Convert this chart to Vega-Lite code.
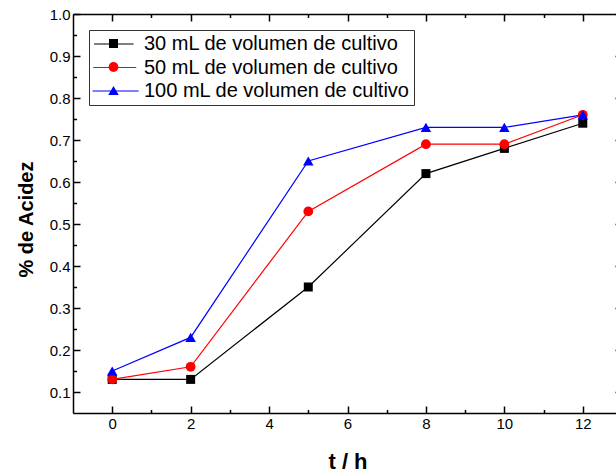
{
  "$schema": "https://vega.github.io/schema/vega-lite/v6.json",
  "width": 549,
  "height": 399,
  "autosize": "none",
  "padding": {"left": 73, "top": 14, "right": 0, "bottom": 62},
  "background": "white",
  "config": {
    "view": {"stroke": null},
    "font": "Liberation Sans",
    "axis": {
      "domainColor": "black",
      "domainWidth": 1.5,
      "tickColor": "black",
      "tickWidth": 1.5,
      "grid": false,
      "labelFont": "Liberation Sans",
      "labelFontSize": 15,
      "labelColor": "black",
      "titleFont": "Liberation Sans",
      "titleFontWeight": "bold",
      "titleColor": "black"
    }
  },
  "data": {
    "values": [
      {"t": 0, "serie": "30 mL de volumen de cultivo", "acidez": 0.13},
      {"t": 2, "serie": "30 mL de volumen de cultivo", "acidez": 0.13},
      {"t": 5, "serie": "30 mL de volumen de cultivo", "acidez": 0.35},
      {"t": 8, "serie": "30 mL de volumen de cultivo", "acidez": 0.62},
      {"t": 10, "serie": "30 mL de volumen de cultivo", "acidez": 0.68},
      {"t": 12, "serie": "30 mL de volumen de cultivo", "acidez": 0.74},
      {"t": 0, "serie": "50 mL de volumen de cultivo", "acidez": 0.13},
      {"t": 2, "serie": "50 mL de volumen de cultivo", "acidez": 0.16},
      {"t": 5, "serie": "50 mL de volumen de cultivo", "acidez": 0.53},
      {"t": 8, "serie": "50 mL de volumen de cultivo", "acidez": 0.69},
      {"t": 10, "serie": "50 mL de volumen de cultivo", "acidez": 0.69},
      {"t": 12, "serie": "50 mL de volumen de cultivo", "acidez": 0.76},
      {"t": 0, "serie": "100 mL de volumen de cultivo", "acidez": 0.15},
      {"t": 2, "serie": "100 mL de volumen de cultivo", "acidez": 0.23},
      {"t": 5, "serie": "100 mL de volumen de cultivo", "acidez": 0.65},
      {"t": 8, "serie": "100 mL de volumen de cultivo", "acidez": 0.73},
      {"t": 10, "serie": "100 mL de volumen de cultivo", "acidez": 0.73},
      {"t": 12, "serie": "100 mL de volumen de cultivo", "acidez": 0.76}
    ]
  },
  "resolve": {"axis": {"x": "independent", "y": "independent"}},
  "layer": [
    {
      "mark": {"type": "line", "strokeWidth": 1.2},
      "encoding": {
        "x": {
          "field": "t", "type": "quantitative",
          "scale": {"domain": [-1, 13], "nice": false, "zero": false},
          "axis": {
            "orient": "bottom",
            "title": "t / h",
            "titleFontSize": 22,
            "values": [0, 2, 4, 6, 8, 10, 12],
            "tickSize": -7,
            "labelPadding": 10,
            "titlePadding": 20
          }
        },
        "y": {
          "field": "acidez", "type": "quantitative",
          "scale": {"domain": [0.05, 1.0], "nice": false, "zero": false},
          "axis": {
            "orient": "left",
            "title": "% de Acidez",
            "titleFontSize": 20,
            "titleY": 205,
            "values": [0.1, 0.2, 0.3, 0.4, 0.5, 0.6, 0.7, 0.8, 0.9, 1.0],
            "format": ".1f",
            "tickSize": -7,
            "labelPadding": 10,
            "titlePadding": 13
          }
        },
        "stroke": {
          "field": "serie", "type": "nominal",
          "scale": {
            "domain": ["30 mL de volumen de cultivo", "50 mL de volumen de cultivo", "100 mL de volumen de cultivo"],
            "range": ["black", "red", "blue"]
          },
          "legend": {
            "orient": "top-left",
            "offset": 15.5,
            "title": null,
            "strokeColor": "#333333",
            "padding": 4,
            "labelFont": "Liberation Sans",
            "labelFontSize": 20,
            "labelColor": "black",
            "labelLimit": 0,
            "labelOffset": 31,
            "symbolType": "M-2,0H6.8",
            "symbolStrokeWidth": 1.2,
            "rowPadding": 3.5
          }
        },
        "detail": {"field": "serie"}
      }
    },
    {
      "mark": {"type": "point", "filled": true, "opacity": 1},
      "encoding": {
        "x": {
          "field": "t", "type": "quantitative",
          "axis": {
            "orient": "top",
            "title": null,
            "labels": false,
            "values": [0, 2, 4, 6, 8, 10, 12],
            "tickSize": -7
          }
        },
        "y": {
          "field": "acidez", "type": "quantitative",
          "axis": {
            "orient": "right",
            "title": null,
            "labels": false,
            "values": [0.1, 0.2, 0.3, 0.4, 0.5, 0.6, 0.7, 0.8, 0.9, 1.0],
            "tickSize": -7
          }
        },
        "color": {
          "field": "serie", "type": "nominal",
          "scale": {
            "domain": ["30 mL de volumen de cultivo", "50 mL de volumen de cultivo", "100 mL de volumen de cultivo"],
            "range": ["black", "red", "blue"]
          },
          "legend": {
            "orient": "none",
            "legendX": 26.5,
            "legendY": 15.5,
            "title": null,
            "padding": 4,
            "labelFont": "Liberation Sans",
            "labelFontSize": 20,
            "labelExpr": "' '",
            "labelLimit": 0,
            "labelOffset": 6,
            "symbolOpacity": 1,
            "rowPadding": 3.5
          }
        },
        "shape": {
          "field": "serie", "type": "nominal",
          "scale": {
            "domain": ["30 mL de volumen de cultivo", "50 mL de volumen de cultivo", "100 mL de volumen de cultivo"],
            "range": ["square", "circle", "triangle-up"]
          },
          "legend": {
            "orient": "none",
            "legendX": 26.5,
            "legendY": 15.5,
            "title": null,
            "padding": 4,
            "labelFont": "Liberation Sans",
            "labelFontSize": 20,
            "labelExpr": "' '",
            "labelLimit": 0,
            "labelOffset": 6,
            "symbolOpacity": 1,
            "rowPadding": 3.5
          }
        },
        "size": {
          "field": "serie", "type": "nominal",
          "scale": {
            "domain": ["30 mL de volumen de cultivo", "50 mL de volumen de cultivo", "100 mL de volumen de cultivo"],
            "range": [81, 110, 150]
          },
          "legend": null
        }
      }
    },
    {
      "mark": {"type": "point", "opacity": 0},
      "encoding": {
        "x": {
          "field": "t", "type": "quantitative",
          "axis": {
            "orient": "bottom",
            "title": null,
            "labels": false,
            "domain": false,
            "values": [1, 3, 5, 7, 9, 11],
            "tickSize": -3.5
          }
        },
        "y": {
          "field": "acidez", "type": "quantitative",
          "axis": {
            "orient": "left",
            "title": null,
            "labels": false,
            "domain": false,
            "values": [0.15, 0.25, 0.35, 0.45, 0.55, 0.65, 0.75, 0.85, 0.95],
            "tickSize": -3.5
          }
        }
      }
    },
    {
      "mark": {"type": "point", "opacity": 0},
      "encoding": {
        "x": {
          "field": "t", "type": "quantitative",
          "axis": {
            "orient": "top",
            "title": null,
            "labels": false,
            "domain": false,
            "values": [1, 3, 5, 7, 9, 11],
            "tickSize": -3.5
          }
        },
        "y": {
          "field": "acidez", "type": "quantitative",
          "axis": {
            "orient": "right",
            "title": null,
            "labels": false,
            "domain": false,
            "values": [0.15, 0.25, 0.35, 0.45, 0.55, 0.65, 0.75, 0.85, 0.95],
            "tickSize": -3.5
          }
        }
      }
    }
  ]
}
